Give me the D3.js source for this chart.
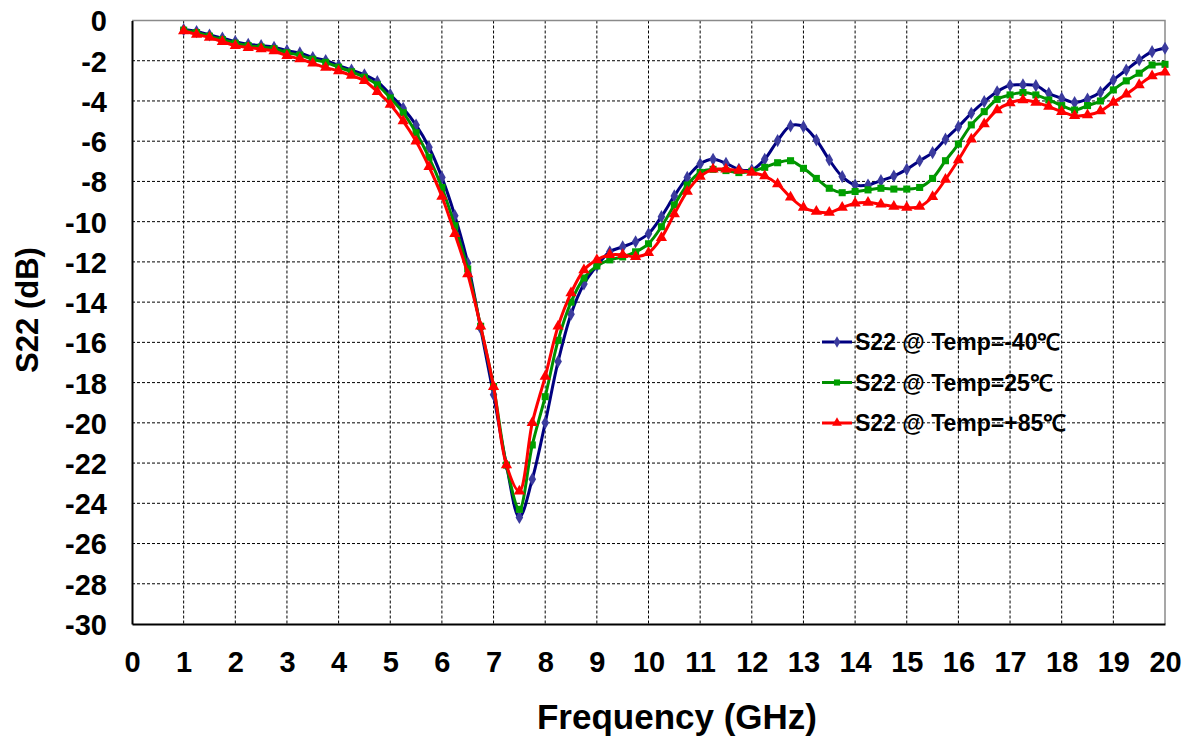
<!DOCTYPE html>
<html>
<head>
<meta charset="utf-8">
<script src="https://cdn.jsdelivr.net/npm/d3@7/dist/d3.min.js"></script>
<style>
  body { margin: 0; background: #fff; }
  text { font-family: "Liberation Sans", Arial, sans-serif; font-weight: bold; fill: #000; }
</style>
</head>
<body>
<svg id="chart" width="1193" height="737"></svg>
<script>
// S22 vs frequency, three temperatures (0.25 GHz steps)
var freq = [1, 1.25, 1.5, 1.75, 2, 2.25, 2.5, 2.75, 3, 3.25, 3.5, 3.75, 4, 4.25, 4.5, 4.75,
    5, 5.25, 5.5, 5.75, 6, 6.25, 6.5, 6.75, 7, 7.25, 7.5, 7.75, 8, 8.25, 8.5, 8.75,
    9, 9.25, 9.5, 9.75, 10, 10.25, 10.5, 10.75, 11, 11.25, 11.5, 11.75, 12, 12.25, 12.5, 12.75,
    13, 13.25, 13.5, 13.75, 14, 14.25, 14.5, 14.75, 15, 15.25, 15.5, 15.75, 16, 16.25, 16.5, 16.75,
    17, 17.25, 17.5, 17.75, 18, 18.25, 18.5, 18.75, 19, 19.25, 19.5, 19.75, 20];

var s22Cold = [-0.45, -0.55, -0.72, -0.87, -1.05, -1.18, -1.25, -1.33, -1.5, -1.61, -1.84, -1.99, -2.24, -2.46, -2.7, -3.04,
    -3.68, -4.36, -5.2, -6.3, -7.8, -9.7, -12.05, -15.3, -18.6, -22.1, -24.7, -22.8, -20.0, -16.95, -14.6, -13.1,
    -12.2, -11.5, -11.25, -11.0, -10.6, -9.75, -8.72, -7.8, -7.13, -6.9, -7.1, -7.4, -7.43, -6.9, -5.97, -5.24,
    -5.28, -5.94, -6.93, -7.76, -8.18, -8.18, -7.96, -7.73, -7.4, -6.97, -6.57, -5.9, -5.28, -4.61, -4.03, -3.54,
    -3.22, -3.2, -3.24, -3.62, -3.87, -4.08, -3.9, -3.57, -2.96, -2.46, -1.96, -1.55, -1.38];

var s22Room = [-0.48, -0.6, -0.78, -0.95, -1.13, -1.25, -1.32, -1.4, -1.6, -1.72, -1.93, -2.08, -2.32, -2.55, -2.82, -3.2,
    -3.85, -4.58, -5.58, -6.8, -8.3, -10.2, -12.35, -15.2, -18.2, -22.1, -24.3, -21.1, -18.7, -15.9, -14.0, -12.8,
    -12.2, -11.9, -11.75, -11.5, -11.1, -10.25, -9.17, -8.18, -7.55, -7.4, -7.46, -7.56, -7.5, -7.3, -7.07, -6.97,
    -7.35, -7.85, -8.34, -8.56, -8.5, -8.42, -8.34, -8.38, -8.38, -8.3, -7.85, -6.97, -6.14, -5.19, -4.53, -3.92,
    -3.7, -3.58, -3.7, -3.95, -4.23, -4.45, -4.23, -4.0, -3.45, -3.0, -2.62, -2.21, -2.18];

var s22Hot = [-0.52, -0.69, -0.85, -1.05, -1.25, -1.35, -1.42, -1.52, -1.75, -1.91, -2.13, -2.34, -2.51, -2.74, -3.0, -3.54,
    -4.17, -5.0, -6.0, -7.27, -8.75, -10.6, -12.6, -15.2, -18.2, -22.1, -23.4, -20.0, -17.7, -15.2, -13.55, -12.4,
    -11.9, -11.65, -11.65, -11.75, -11.55, -10.8, -9.62, -8.5, -7.76, -7.4, -7.4, -7.46, -7.56, -7.73, -8.13, -8.79,
    -9.3, -9.5, -9.55, -9.3, -9.09, -9.05, -9.14, -9.25, -9.3, -9.25, -8.76, -7.9, -6.93, -5.9, -5.14, -4.45,
    -4.1, -3.95, -4.07, -4.28, -4.53, -4.73, -4.7, -4.5, -4.07, -3.67, -3.2, -2.76, -2.57];

var seriesNames = ["S22 @ Temp=-40\u2103", "S22 @ Temp=25\u2103", "S22 @ Temp=+85\u2103"];
var xTicks = [0, 1, 2, 3, 4, 5, 6, 7, 8, 9, 10, 11, 12, 13, 14, 15, 16, 17, 18, 19, 20];
var yTicks = [0, -2, -4, -6, -8, -10, -12, -14, -16, -18, -20, -22, -24, -26, -28, -30];

var svg = d3.select("#chart");

// plot box (window.top is reserved, so prefixed names)
var plotLeft = 132, plotRight = 1165, plotTop = 20.5, plotBottom = 624;

var x = d3.scaleLinear().domain([0, 20]).range([plotLeft, plotRight]);
var y = d3.scaleLinear().domain([-30, 0]).range([plotBottom, plotTop]);

// dashed grid
svg.append("g")
    .selectAll("line")
    .data(xTicks.slice(1, -1))
    .enter().append("line")
    .attr("x1", function (d) { return x(d); })
    .attr("x2", function (d) { return x(d); })
    .attr("y1", plotTop)
    .attr("y2", plotBottom)
    .attr("stroke", "#000")
    .attr("stroke-width", 1)
    .attr("stroke-dasharray", "3,2");

svg.append("g")
    .selectAll("line")
    .data(yTicks.slice(1, -1))
    .enter().append("line")
    .attr("x1", plotLeft)
    .attr("x2", plotRight)
    .attr("y1", function (d) { return y(d); })
    .attr("y2", function (d) { return y(d); })
    .attr("stroke", "#000")
    .attr("stroke-width", 1)
    .attr("stroke-dasharray", "3,2");

// top and right frame (grey)
svg.append("path")
    .attr("d", "M" + plotLeft + "," + plotTop + "H" + plotRight + "V" + plotBottom)
    .attr("fill", "none")
    .attr("stroke", "#8a8a8a")
    .attr("stroke-width", 1.5);

// axes - plain hyphen for negatives, like the original
var plainFormat = function (d) { return String(d); };
var xAxis = d3.axisBottom(x).tickValues(xTicks).tickFormat(plainFormat).tickSize(0).tickPadding(27);
var yAxis = d3.axisLeft(y).tickValues(yTicks).tickFormat(plainFormat).tickSize(0).tickPadding(25);

var gx = svg.append("g").attr("transform", "translate(0," + plotBottom + ")").call(xAxis);
var gy = svg.append("g").attr("transform", "translate(" + plotLeft + ",0)").call(yAxis);

[gx, gy].forEach(function (g) {
    g.select(".domain").attr("stroke", "#000").attr("stroke-width", 2);
    g.selectAll("text")
        .style("font-family", "'Liberation Sans', Arial, sans-serif")
        .style("font-weight", "bold")
        .style("font-size", "29px")
        .attr("fill", "#000");
});
gy.selectAll("text").attr("dy", "0.36em");

// axis titles
svg.append("text")
    .attr("x", 677)
    .attr("y", 729)
    .attr("text-anchor", "middle")
    .style("font-size", "35px")
    .text("Frequency (GHz)");

svg.append("text")
    .attr("transform", "translate(38,310) rotate(-90)")
    .attr("text-anchor", "middle")
    .style("font-size", "31px")
    .text("S22 (dB)");

// series
var series = [
    { name: seriesNames[0], values: s22Cold, line: "#000080", fill: "#3b3b9e", shape: d3.symbolDiamond, size: 50 },
    { name: seriesNames[1], values: s22Room, line: "#009000", fill: "#00a000", shape: d3.symbolSquare, size: 50 },
    { name: seriesNames[2], values: s22Hot, line: "#ff0000", fill: "#ff0000", shape: d3.symbolTriangle, size: 55 }
];

var line = d3.line()
    .x(function (d) { return x(d[0]); })
    .y(function (d) { return y(d[1]); })
    .curve(d3.curveCatmullRom.alpha(0.5));

series.forEach(function (s) {
    var pts = freq.map(function (f, i) { return [f, s.values[i]]; });
    var g = svg.append("g");

    g.append("path")
        .datum(pts)
        .attr("d", line)
        .attr("fill", "none")
        .attr("stroke", s.line)
        .attr("stroke-width", 3);

    g.selectAll("path.marker")
        .data(pts)
        .enter().append("path")
        .attr("class", "marker")
        .attr("d", d3.symbol().type(s.shape).size(s.size))
        .attr("transform", function (d) { return "translate(" + x(d[0]) + "," + y(d[1]) + ")"; })
        .attr("fill", s.fill)
        .attr("stroke", "none");
});

// legend
var legend = svg.append("g").attr("transform", "translate(822,342)");

var row = legend.selectAll("g")
    .data(series)
    .enter().append("g")
    .attr("transform", function (d, i) { return "translate(0," + (i * 40.5) + ")"; });

row.append("line")
    .attr("x1", 0).attr("x2", 30)
    .attr("y1", 0).attr("y2", 0)
    .attr("stroke", function (d) { return d.line; })
    .attr("stroke-width", 3);

row.append("path")
    .attr("d", function (d) { return d3.symbol().type(d.shape).size(d.size * 0.75)(); })
    .attr("transform", "translate(15,0)")
    .attr("fill", function (d) { return d.fill; });

row.append("text")
    .attr("x", 33)
    .attr("y", 0)
    .attr("dy", "0.36em")
    .style("font-size", "23px")
    .text(function (d) { return d.name; });
</script>
</body>
</html>
